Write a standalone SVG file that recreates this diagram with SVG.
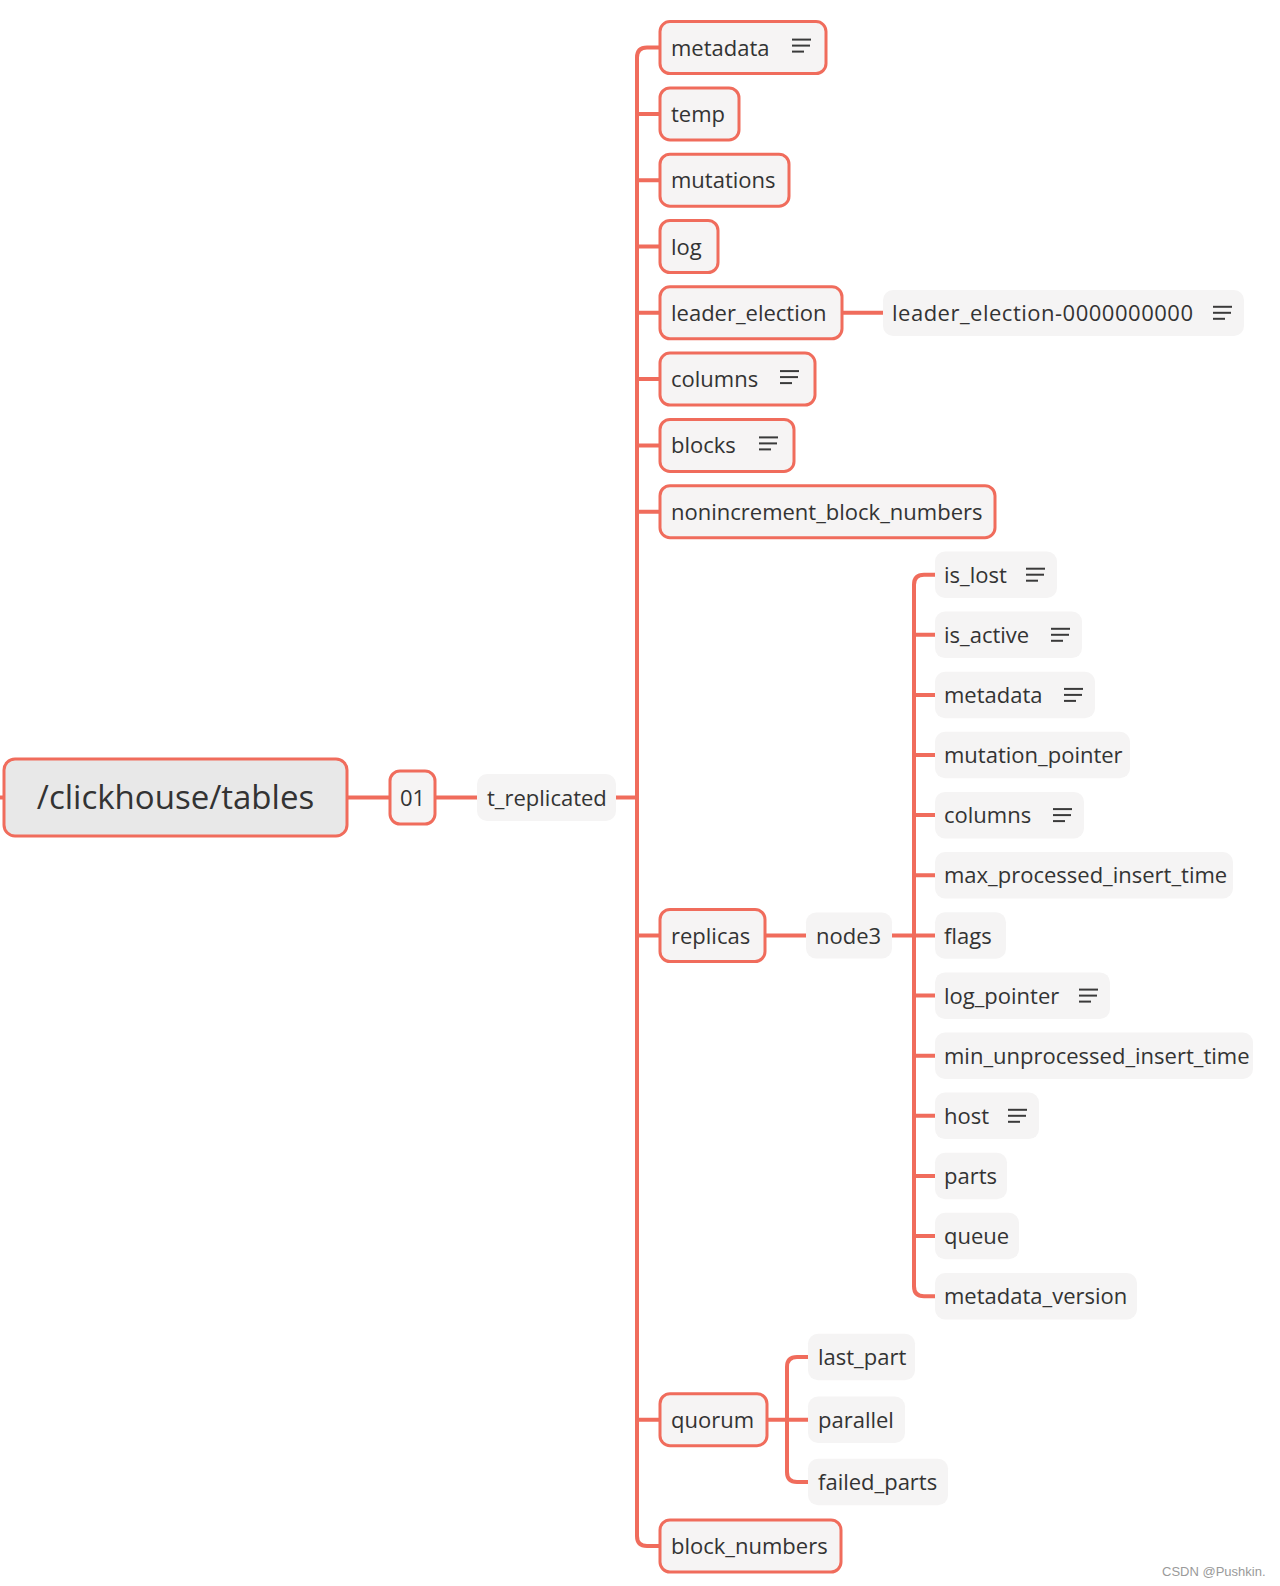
<svg xmlns="http://www.w3.org/2000/svg" width="1280" height="1586" viewBox="0 0 1280 1586">
<defs>
<style>
.t{font-family:"Open Sans","Liberation Sans",sans-serif;font-size:22px;fill:#333333;dominant-baseline:central;transform:translateY(-1px)}
.b2{fill:#f6f4f4;stroke:#F06C5C;stroke-width:3}
.b3{fill:#f5f4f4}
.c{fill:none;stroke:#F06C5C;stroke-width:4;stroke-linecap:butt}
.ic{stroke:#3a3a3a;stroke-width:2}
</style>
<g id="notes">
<line class="ic" x1="0" y1="-6" x2="19" y2="-6"/>
<line class="ic" x1="0" y1="0" x2="18" y2="0"/>
<line class="ic" x1="0" y1="6" x2="12" y2="6"/>
</g>
</defs>
<rect width="1280" height="1586" fill="#ffffff"/>

<g id="connectors">
<path class="c" d="M0,797.5 H4"/>
<path class="c" d="M347,797.5 H390"/>
<path class="c" d="M435,797.5 H477"/>
<path class="c" d="M616,797.5 H637"/>
<path class="c" d="M660,47.6 H647 Q637,47.6 637,57.6 V1536 Q637,1546 647,1546 H660"/>
<path class="c" d="M637,113.9 H660 M637,180.2 H660 M637,246.5 H660 M637,312.8 H660 M637,379.1 H660 M637,445.4 H660 M637,511.7 H660 M637,935.5 H660 M637,1419.7 H660"/>
<path class="c" d="M842,312.8 H883"/>
<path class="c" d="M765,935.5 H806"/>
<path class="c" d="M892,935.5 H935"/>
<path class="c" d="M935,574.7 H924 Q914,574.7 914,584.7 V1286.2 Q914,1296.2 924,1296.2 H935"/>
<path class="c" d="M914,634.8 H935 M914,694.9 H935 M914,755 H935 M914,815.1 H935 M914,875.2 H935 M914,995.6 H935 M914,1055.7 H935 M914,1115.8 H935 M914,1175.9 H935 M914,1236 H935"/>
<path class="c" d="M767,1419.7 H808"/>
<path class="c" d="M808,1357 H797 Q787,1357 787,1367 V1472 Q787,1482 797,1482 H808"/>
</g>

<g id="root">
<rect x="4" y="759" width="343" height="77" rx="11" fill="#e8e8e8" stroke="#F06C5C" stroke-width="3"/>
<text class="t" x="175.5" y="797.5" text-anchor="middle" style="font-size:33px">/clickhouse/tables</text>
</g>
<g id="n01">
<rect class="b2" x="390" y="771" width="45" height="53" rx="10"/>
<text class="t" x="412.5" y="797.5" text-anchor="middle">01</text>
</g>
<g id="t_replicated">
<rect class="b3" x="477" y="774" width="139" height="47" rx="10"/>
<text class="t" x="487" y="797.5">t_replicated</text>
</g>

<g id="metadata">
<rect class="b2" x="660" y="21.6" width="166" height="52" rx="10"/>
<text class="t" x="671" y="47.6">metadata</text>
<use href="#notes" x="792" y="45.6"/>
</g>
<g id="temp">
<rect class="b2" x="660" y="87.9" width="79" height="52" rx="10"/>
<text class="t" x="671" y="113.9">temp</text>
</g>
<g id="mutations">
<rect class="b2" x="660" y="154.2" width="129" height="52" rx="10"/>
<text class="t" x="671" y="180.2">mutations</text>
</g>
<g id="log">
<rect class="b2" x="660" y="220.5" width="58" height="52" rx="10"/>
<text class="t" x="671" y="246.5">log</text>
</g>
<g id="leader_election">
<rect class="b2" x="660" y="286.8" width="182" height="52" rx="10"/>
<text class="t" x="671" y="312.8">leader_election</text>
</g>
<g id="leader_election-0000000000">
<rect class="b3" x="883" y="290" width="361" height="46" rx="10"/>
<text class="t" x="892" y="312.8" textLength="301" lengthAdjust="spacing">leader_election-0000000000</text>
<use href="#notes" x="1213" y="312.8"/>
</g>
<g id="columns">
<rect class="b2" x="660" y="353.1" width="155" height="52" rx="10"/>
<text class="t" x="671" y="379.1">columns</text>
<use href="#notes" x="780" y="377.1"/>
</g>
<g id="blocks">
<rect class="b2" x="660" y="419.4" width="134" height="52" rx="10"/>
<text class="t" x="671" y="445.4">blocks</text>
<use href="#notes" x="759" y="443.4"/>
</g>
<g id="nonincrement_block_numbers">
<rect class="b2" x="660" y="485.7" width="335" height="52" rx="10"/>
<text class="t" x="671" y="511.7">nonincrement_block_numbers</text>
</g>
<g id="replicas">
<rect class="b2" x="660" y="909.5" width="105" height="52" rx="10"/>
<text class="t" x="671" y="935.5">replicas</text>
</g>
<g id="node3">
<rect class="b3" x="806" y="912.5" width="86" height="46" rx="10"/>
<text class="t" x="816" y="935.5">node3</text>
</g>

<g id="is_lost">
<rect class="b3" x="935" y="551.5" width="122" height="46.5" rx="10"/>
<text class="t" x="944" y="574.7">is_lost</text>
<use href="#notes" x="1026" y="574.7"/>
</g>
<g id="is_active">
<rect class="b3" x="935" y="611.6" width="147" height="46.5" rx="10"/>
<text class="t" x="944" y="634.8">is_active</text>
<use href="#notes" x="1051" y="634.8"/>
</g>
<g id="metadata2">
<rect class="b3" x="935" y="671.7" width="160" height="46.5" rx="10"/>
<text class="t" x="944" y="694.9">metadata</text>
<use href="#notes" x="1064" y="694.9"/>
</g>
<g id="mutation_pointer">
<rect class="b3" x="935" y="731.8" width="195" height="46.5" rx="10"/>
<text class="t" x="944" y="755">mutation_pointer</text>
</g>
<g id="columns2">
<rect class="b3" x="935" y="791.9" width="149" height="46.5" rx="10"/>
<text class="t" x="944" y="815.1">columns</text>
<use href="#notes" x="1053" y="815.1"/>
</g>
<g id="max_processed_insert_time">
<rect class="b3" x="935" y="852" width="298" height="46.5" rx="10"/>
<text class="t" x="944" y="875.2">max_processed_insert_time</text>
</g>
<g id="flags">
<rect class="b3" x="935" y="912.3" width="71" height="46.5" rx="10"/>
<text class="t" x="944" y="935.5">flags</text>
</g>
<g id="log_pointer">
<rect class="b3" x="935" y="972.4" width="175" height="46.5" rx="10"/>
<text class="t" x="944" y="995.6">log_pointer</text>
<use href="#notes" x="1079" y="995.6"/>
</g>
<g id="min_unprocessed_insert_time">
<rect class="b3" x="935" y="1032.5" width="318" height="46.5" rx="10"/>
<text class="t" x="944" y="1055.7">min_unprocessed_insert_time</text>
</g>
<g id="host">
<rect class="b3" x="935" y="1092.6" width="104" height="46.5" rx="10"/>
<text class="t" x="944" y="1115.8">host</text>
<use href="#notes" x="1008" y="1115.8"/>
</g>
<g id="parts">
<rect class="b3" x="935" y="1152.7" width="72" height="46.5" rx="10"/>
<text class="t" x="944" y="1175.9">parts</text>
</g>
<g id="queue">
<rect class="b3" x="935" y="1212.8" width="84" height="46.5" rx="10"/>
<text class="t" x="944" y="1236">queue</text>
</g>
<g id="metadata_version">
<rect class="b3" x="935" y="1273" width="202" height="46.5" rx="10"/>
<text class="t" x="944" y="1296.2">metadata_version</text>
</g>

<g id="quorum">
<rect class="b2" x="660" y="1393.7" width="107" height="52" rx="10"/>
<text class="t" x="671" y="1419.7">quorum</text>
</g>
<g id="last_part">
<rect class="b3" x="808" y="1333.7" width="107" height="46.5" rx="10"/>
<text class="t" x="818" y="1357">last_part</text>
</g>
<g id="parallel">
<rect class="b3" x="808" y="1396.5" width="97" height="46.5" rx="10"/>
<text class="t" x="818" y="1419.7">parallel</text>
</g>
<g id="failed_parts">
<rect class="b3" x="808" y="1458.8" width="140" height="46.5" rx="10"/>
<text class="t" x="818" y="1482">failed_parts</text>
</g>
<g id="block_numbers">
<rect class="b2" x="660" y="1520" width="181" height="52" rx="10"/>
<text class="t" x="671" y="1546">block_numbers</text>
</g>

<text x="1162" y="1576" style="font-family:'Liberation Sans',Arial,sans-serif;font-size:13px;fill:#9a9a9a">CSDN @Pushkin.</text>
</svg>
